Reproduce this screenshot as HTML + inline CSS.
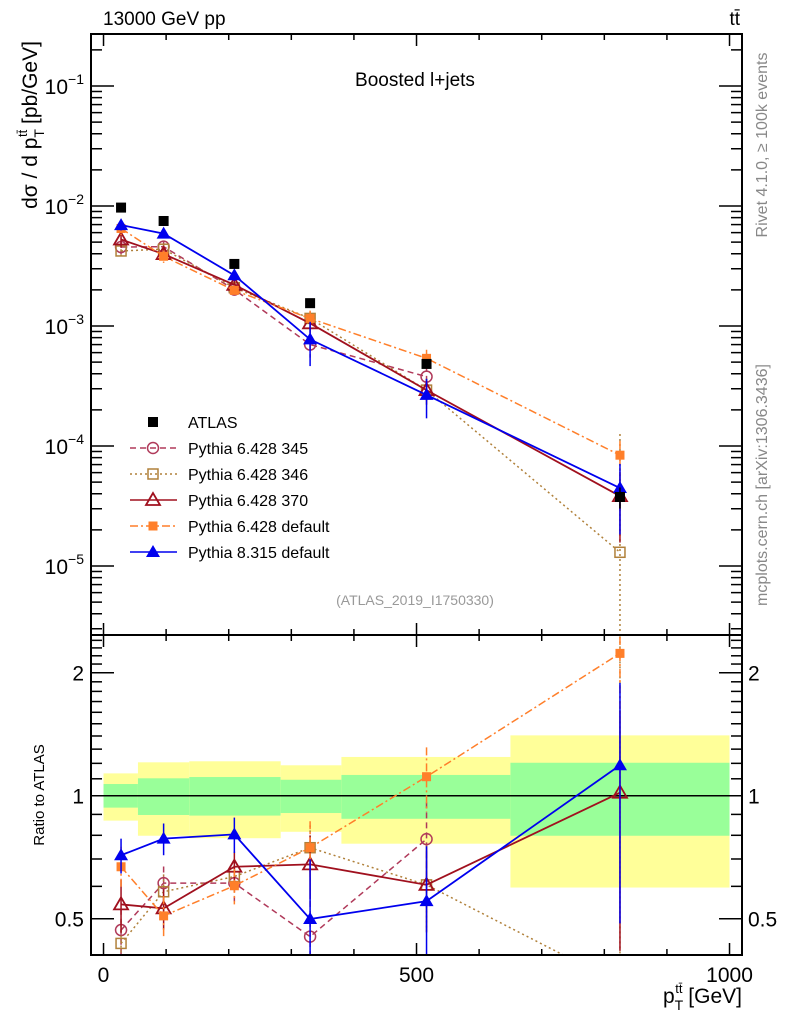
<!DOCTYPE html>
<html><head><meta charset="utf-8"><style>
html,body{margin:0;padding:0;background:#fff;width:786px;height:1024px;overflow:hidden;}
svg{display:block;}
svg text{font-family:"Liberation Sans",sans-serif;}
</style></head><body>
<svg id="chart" width="786" height="1024" viewBox="0 0 786 1024" xmlns="http://www.w3.org/2000/svg">
<defs>
<clipPath id="clipMain"><rect x="91" y="34" width="651" height="601"/></clipPath>
<clipPath id="clipRatio"><rect x="91" y="635" width="651" height="320"/></clipPath>
</defs>
<g id="bands" clip-path="url(#clipRatio)"></g>
<g id="ticks"></g>
<g id="series"></g>
<rect x="91" y="34" width="651" height="601" fill="none" stroke="#000" stroke-width="2"/>
<rect x="91" y="635" width="651" height="320" fill="none" stroke="#000" stroke-width="2"/>
<text x="103" y="25" font-size="19">13000 GeV pp</text>
<text x="740" y="25" font-size="19" text-anchor="end">tt̄</text>
<text x="415" y="86" font-size="19" text-anchor="middle">Boosted l+jets</text>
<text x="415" y="605" font-size="14" fill="#999" text-anchor="middle">(ATLAS_2019_I1750330)</text>
<text transform="translate(767,145) rotate(-90)" font-size="16" fill="#888" text-anchor="middle">Rivet 4.1.0, ≥ 100k events</text>
<text transform="translate(767,485) rotate(-90)" font-size="16" fill="#888" text-anchor="middle">mcplots.cern.ch [arXiv:1306.3436]</text>
<text transform="translate(37,125) rotate(-90)" font-size="21" text-anchor="middle">dσ / d p<tspan font-size="14" dy="7">T</tspan><tspan font-size="13" dy="-17" dx="-8">tt̄</tspan><tspan dy="10"> [pb/GeV]</tspan></text>
<text transform="translate(44,795) rotate(-90)" font-size="15" text-anchor="middle">Ratio to ATLAS</text>
<text x="742" y="1003" font-size="21" text-anchor="end">p<tspan font-size="14" dy="7">T</tspan><tspan font-size="13" dy="-17" dx="-8">tt̄</tspan><tspan dy="10"> [GeV]</tspan></text>
<g id="legend"></g>
</svg>
<script>
const NS="http://www.w3.org/2000/svg";
const xPts=[28,96,209,330,516,825];
const binEdges=[0,55,137,283,380,650,1000];
const atlas=[9.7e-3,7.5e-3,3.29e-3,1.55e-3,4.83e-4,3.76e-5];
const atlasErr=[0.03,0.03,0.04,0.05,0.08,0.2];
const bandInnerUp=[1.068,1.103,1.111,1.094,1.124,1.204];
const bandInnerDn=[0.935,0.897,0.894,0.907,0.878,0.798];
const bandOuterUp=[1.134,1.207,1.214,1.187,1.244,1.405];
const bandOuterDn=[0.869,0.798,0.787,0.816,0.763,0.596];
const ratio345=[0.469,0.611,0.611,0.452,0.783];
const err345=[0.06,0.06,0.06,0.1,0.18];
const ratio346=[0.435,0.582,0.634,0.746,0.605,0.346];
const err346=[0.06,0.06,0.06,0.1,0.15,3];
const ratio370=[0.542,0.530,0.670,0.679,0.605,1.017];
const err370=[0.08,0.06,0.06,0.12,0.14,0.6];
const ratioDef6=[0.670,0.508,0.602,0.746,1.113,2.23];
const errDef6=[0.08,0.06,0.06,0.12,0.2,0.7];
const ratioPy8=[0.715,0.785,0.804,0.499,0.552,1.187];
const errPy8=[0.07,0.07,0.08,0.2,0.2,0.7];
const mainTickExp=[-1,-2,-3,-4,-5];
const ratioTicks=[0.5,1,2];
const xTicks=[0,500,1000];

const X=v=>91+(v+20)*0.626;
const YM=v=>206-(Math.log10(v)+2)*120;
const YR=v=>795.7-Math.log10(v)*408.6;

function mk(tag,attrs,parent){const e=document.createElementNS(NS,tag);for(const k in attrs)e.setAttribute(k,attrs[k]);parent.appendChild(e);return e;}

const bands=document.getElementById('bands');
for(let i=0;i<6;i++){
  const x0=X(binEdges[i]),x1=X(binEdges[i+1]);
  const y1=mk('rect',{x:x0,y:YR(bandOuterUp[i]),width:x1-x0,height:YR(bandOuterDn[i])-YR(bandOuterUp[i]),fill:'#ffff99'},bands);
  
  
  const g1=mk('rect',{x:x0,y:YR(bandInnerUp[i]),width:x1-x0,height:YR(bandInnerDn[i])-YR(bandInnerUp[i]),fill:'#99ff99'},bands);
  
  
}
const one=mk('line',{x1:91,x2:742,y1:YR(1),y2:YR(1),stroke:'#000','stroke-width':1.5},bands);



const tk=document.getElementById('ticks');
function ln(x1,y1,x2,y2,w){mk('line',{x1,y1,x2,y2,stroke:'#000','stroke-width':w||1.5},tk);}
for(let v=0;v<=1000;v+=100){
  const x=X(v),L=(v%500===0)?12:6;
  ln(x,34,x,34+L);ln(x,635,x,635-L);ln(x,635,x,635+L);ln(x,955,x,955-L);
}
xTicks.forEach(v=>{const t=mk('text',{x:X(v),y:982,'font-size':21,'text-anchor':'middle'},tk);t.textContent=String(v);
  
  });
for(let e=-6;e<=0;e++){for(let m=1;m<10;m++){const v=m*Math.pow(10,e);const y=YM(v);if(y<35||y>634)continue;const L=m===1?23:11;ln(91,y,91+L,y);ln(742,y,742-L,y);}}
mainTickExp.forEach(e=>{const y=YM(Math.pow(10,e));
  const t=mk('text',{x:84,y:y+8,'font-size':21,'text-anchor':'end'},tk);
  
  
  t.innerHTML='10<tspan font-size="14" dy="-10">−'+(-e)+'</tspan>';});
for(let v=0.4;v<=2.5;v+=0.1){const y=YR(v);if(y<636||y>954)continue;const maj=[0.5,1,2].some(m=>Math.abs(m-v)<1e-6);ln(91,y,91+(maj?23:11),y);ln(742,y,742-(maj?23:11),y);}
[2].forEach(v=>{const y=YR(v);ln(91,y,114,y);ln(742,y,719,y);});
ratioTicks.forEach(v=>{const y=YR(v);
  const a=mk('text',{x:84,y:y+8,'font-size':21,'text-anchor':'end'},tk);a.textContent=String(v);
  
  
  const b=mk('text',{x:748,y:y+8,'font-size':21},tk);b.textContent=String(v);
  
  });

const sg=document.getElementById('series');
const gm=mk('g',{'clip-path':'url(#clipMain)'},sg);
const gr=mk('g',{'clip-path':'url(#clipRatio)'},sg);
function marker(p,type,color,x,y){
  if(type==='sq')mk('rect',{x:x-5,y:y-5,width:10,height:10,fill:color},p);
  else if(type==='osq')mk('rect',{x:x-5,y:y-5,width:10,height:10,fill:'none',stroke:color,'stroke-width':1.5},p);
  else if(type==='oc')mk('circle',{cx:x,cy:y,r:5.5,fill:'none',stroke:color,'stroke-width':1.5},p);
  else if(type==='otri')mk('polygon',{points:`${x},${y-7} ${x-7},${y+5} ${x+7},${y+5}`,fill:'none',stroke:color,'stroke-width':1.8},p);
  else if(type==='tri')mk('polygon',{points:`${x},${y-7} ${x-7},${y+5} ${x+7},${y+5}`,fill:color},p);
  else if(type==='fsq')mk('rect',{x:x-4.5,y:y-4.5,width:9,height:9,fill:color},p);
}
const seriesList=[
 {name:'Pythia 6.428 345',r:ratio345,e:err345,color:'#b03a5a',dash:'6,4',m:'oc',w:1.5},
 {name:'Pythia 6.428 346',r:ratio346,e:err346,color:'#b0803a',dash:'2,3',m:'osq',w:1.5},
 {name:'Pythia 6.428 370',r:ratio370,e:err370,color:'#a0101e',dash:'',m:'otri',w:1.8},
 {name:'Pythia 6.428 default',r:ratioDef6,e:errDef6,color:'#ff7f2a',dash:'8,3,2,3',m:'fsq',w:1.5},
 {name:'Pythia 8.315 default',r:ratioPy8,e:errPy8,color:'#0000ee',dash:'',m:'tri',w:1.8}
];
seriesList.forEach((s,si)=>{
  const gg=mk('g',{},gm),gq=mk('g',{},gr);
  
  
  
  
  const pm=[],pr=[];
  s.r.forEach((r,i)=>{
    const v=atlas[i]*r,x=X(xPts[i]);
    pm.push(x+','+YM(v));pr.push(x+','+YR(r));
    const rel=s.e[i]/r;
    mk('line',{x1:x,x2:x,y1:YM(v*(1+rel)),y2:YM(Math.max(v*(1-rel),1e-9)),stroke:s.color,'stroke-width':1.5,'stroke-dasharray':s.dash},gg);
    mk('line',{x1:x,x2:x,y1:YR(r+s.e[i]),y2:YR(Math.max(r-s.e[i],0.01)),stroke:s.color,'stroke-width':1.5,'stroke-dasharray':s.dash},gq);
  });
  mk('polyline',{points:pm.join(' '),fill:'none',stroke:s.color,'stroke-width':s.w,'stroke-dasharray':s.dash},gg);
  mk('polyline',{points:pr.join(' '),fill:'none',stroke:s.color,'stroke-width':s.w,'stroke-dasharray':s.dash},gq);
  s.r.forEach((r,i)=>{const x=X(xPts[i]);marker(gg,s.m,s.color,x,YM(atlas[i]*r));marker(gq,s.m,s.color,x,YR(r));});
});
const ga=mk('g',{},gm);


atlas.forEach((v,i)=>{const x=X(xPts[i]);
  mk('line',{x1:x,x2:x,y1:YM(v*(1+atlasErr[i])),y2:YM(v*(1-atlasErr[i])),stroke:'#000','stroke-width':1.5},ga);
  marker(ga,'sq','#000',x,YM(v));});

const lg=document.getElementById('legend');
const ly=[422,448,474,500,526,552];
const e0=mk('g',{},lg);


marker(e0,'sq','#000',153,ly[0]);
const t0=mk('text',{x:188,y:ly[0]+6,'font-size':16},e0);t0.textContent='ATLAS';
seriesList.forEach((s,i)=>{const g=mk('g',{},lg);
  
  
  const y=ly[i+1];
  mk('line',{x1:130,x2:177,y1:y,y2:y,stroke:s.color,'stroke-width':1.5,'stroke-dasharray':s.dash},g);
  marker(g,s.m,s.color,153,y);
  const t=mk('text',{x:188,y:y+6,'font-size':16},g);t.textContent=s.name;});
</script>
</body></html>
